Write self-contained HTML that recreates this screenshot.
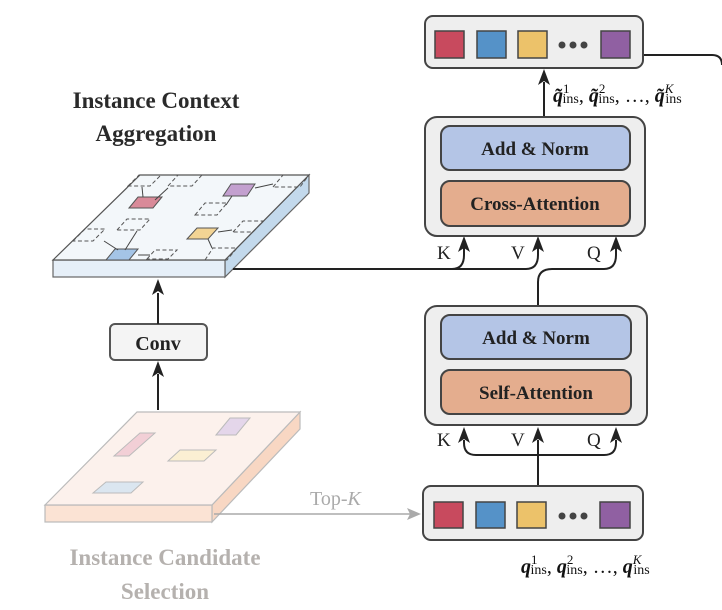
<!DOCTYPE html>
<html><head><meta charset="utf-8"><style>
html,body{margin:0;padding:0;background:#fff;}
svg{display:block;}
text{font-family:"Liberation Serif",serif;}
</style></head><body>
<svg width="722" height="610" viewBox="0 0 722 610" xmlns="http://www.w3.org/2000/svg">
<defs>
<marker id="ah" markerWidth="10" markerHeight="10" refX="5" refY="9" orient="auto" markerUnits="userSpaceOnUse" viewBox="0 0 10 10">
</marker>
</defs>
<!-- Titles -->
<text x="156" y="108" text-anchor="middle" font-size="23" font-weight="bold" fill="#2a2a2a">Instance Context</text>
<text x="156" y="141" text-anchor="middle" font-size="23" font-weight="bold" fill="#2a2a2a">Aggregation</text>
<text x="165" y="565" text-anchor="middle" font-size="23" font-weight="bold" fill="#b5b1ae">Instance Candidate</text>
<text x="165" y="599" text-anchor="middle" font-size="23" font-weight="bold" fill="#b5b1ae">Selection</text>

<!-- Blue slab -->
<polygon points="225,260 309,175 309,193 225,277" fill="#c3d9ec" stroke="#666" stroke-width="1.2"/>
<rect x="53" y="260" width="172" height="17" fill="#e6eff8" stroke="#666" stroke-width="1.2"/>
<polygon points="53,260 140,175 309,175 225,260" fill="#f3f7fa" stroke="#555" stroke-width="1.2"/>
<g fill="none" stroke="#555" stroke-width="1" stroke-dasharray="4,2.5">
<polygon points="128,186 139,175 161,175 150,186"/>
<polygon points="168,186 178,175 202,175 192,186"/>
<polygon points="117,230 127,219 150,219 140,230"/>
<polygon points="73,241 85,229 105,229 93,241"/>
<polygon points="147,259 155,250 177,250 168,259"/>
<polygon points="273,187 283,175 309,175 300,187"/>
<polygon points="195,215 205,203 227,203 217,215"/>
<polygon points="233,232 243,221 263,221 253,232"/>
<polygon points="205,260 213,248 237,248 227,260"/>
</g>
<polygon points="129,208 138,197 162,197 153,208" fill="#d98a99" stroke="#555" stroke-width="1"/>
<polygon points="223,196 231,184 255,184 247,196" fill="#c3a0cf" stroke="#555" stroke-width="1"/>
<polygon points="187,239 197,228 218,228 208,239" fill="#f3d494" stroke="#555" stroke-width="1"/>
<polygon points="106,260 115,249 138,249 129,260" fill="#a4c4e6" stroke="#555" stroke-width="1"/>
<g stroke="#444" stroke-width="1" fill="#444">
<line x1="143" y1="197" x2="142" y2="187"/><line x1="155" y1="200" x2="168" y2="188"/>
<line x1="255" y1="188" x2="273" y2="184"/><line x1="232" y1="196" x2="226" y2="205"/>
<line x1="218" y1="232" x2="232" y2="230"/><line x1="208" y1="239" x2="212" y2="248"/>
<line x1="118" y1="250" x2="104" y2="241"/><line x1="125" y1="250" x2="137" y2="231"/>
<line x1="138" y1="255" x2="150" y2="255"/>
</g>

<!-- Orange slab -->
<polygon points="212,505 300,412 300,429 212,522" fill="#f8d7c3" stroke="#bbb" stroke-width="1.2"/>
<rect x="45" y="505" width="167" height="17" fill="#fbe3d4" stroke="#bbb" stroke-width="1.2"/>
<polygon points="45,505 137,412 300,412 212,505" fill="#fcf1ec" stroke="#bbb" stroke-width="1.2"/>
<polygon points="114,456 140,433 155,433 129,456" fill="#f2cfd6" stroke="#bbb"/>
<polygon points="216,435 230,418 250,418 236,435" fill="#e4d6ea" stroke="#bbb"/>
<polygon points="168,461 180,450 216,450 204,461" fill="#fbefd3" stroke="#bbb"/>
<polygon points="93,493 106,482 143,482 131,493" fill="#dbe6f0" stroke="#bbb"/>

<!-- Top-K -->
<line x1="214" y1="514" x2="412" y2="514" stroke="#aaa" stroke-width="1.6"/>
<polygon points="421,514 407,508 410,514 407,520" fill="#aaa"/>
<text x="310" y="505" font-size="20" fill="#aaa">Top-<tspan font-style="italic">K</tspan></text>

<!-- Conv -->
<line x1="158" y1="410" x2="158" y2="374" stroke="#222" stroke-width="2"/>
<polygon points="158,361 152,377 158,373 164,377" fill="#222"/>
<rect x="110" y="324" width="97" height="36" rx="5" fill="#f4f4f4" stroke="#555" stroke-width="2"/>
<text x="158" y="350" text-anchor="middle" font-size="20" font-weight="bold" fill="#222">Conv</text>
<line x1="158" y1="324" x2="158" y2="293" stroke="#222" stroke-width="2"/>
<polygon points="158,279 152,295 158,291 164,295" fill="#222"/>

<!-- connectors cross -->
<g fill="none" stroke="#222" stroke-width="2">
<path d="M233,269 H452 Q464,269 464,255 V248"/>
<path d="M452,269 H526 Q538,269 538,255 V248"/>
<path d="M538,308 V282 Q538,269 552,269 H604 Q616,269 616,255 V248"/>
<!-- self -->
<path d="M538,486 V440"/>
<path d="M538,455 H476 Q464,455 464,443 V440"/>
<path d="M538,455 H604 Q616,455 616,443 V440"/>
<!-- top -->
<path d="M544,117 V82"/>
<path d="M643,55 H712 Q722,55 722,65"/>
</g>
<g fill="#222">
<polygon points="464,236 458,252 464,248 470,252"/>
<polygon points="538,236 532,252 538,248 544,252"/>
<polygon points="616,236 610,252 616,248 622,252"/>
<polygon points="464,427 458,443 464,439 470,443"/>
<polygon points="538,427 532,443 538,439 544,443"/>
<polygon points="616,427 610,443 616,439 622,443"/>
<polygon points="544,69 538,85 544,81 550,85"/>
</g>
<g font-size="19" fill="#222">
<text x="437" y="259">K</text><text x="511" y="259">V</text><text x="587" y="259">Q</text>
<text x="437" y="446">K</text><text x="511" y="446">V</text><text x="587" y="446">Q</text>
</g>

<!-- Cross block -->
<rect x="425" y="117" width="220" height="119" rx="12" fill="#eeeeee" stroke="#444" stroke-width="2"/>
<rect x="441" y="126" width="189" height="44" rx="9" fill="#b4c5e6" stroke="#444" stroke-width="2"/>
<rect x="441" y="181" width="189" height="45" rx="9" fill="#e4ad8e" stroke="#444" stroke-width="2"/>
<text x="535" y="155" text-anchor="middle" font-size="19" font-weight="bold" fill="#222">Add &amp; Norm</text>
<text x="535" y="210" text-anchor="middle" font-size="19" font-weight="bold" fill="#222">Cross-Attention</text>

<!-- Self block -->
<rect x="425" y="306" width="222" height="119" rx="12" fill="#eeeeee" stroke="#444" stroke-width="2"/>
<rect x="441" y="315" width="190" height="44" rx="9" fill="#b4c5e6" stroke="#444" stroke-width="2"/>
<rect x="441" y="370" width="190" height="44" rx="9" fill="#e4ad8e" stroke="#444" stroke-width="2"/>
<text x="536" y="344" text-anchor="middle" font-size="19" font-weight="bold" fill="#222">Add &amp; Norm</text>
<text x="536" y="399" text-anchor="middle" font-size="19" font-weight="bold" fill="#222">Self-Attention</text>

<!-- Top token box -->
<rect x="425" y="16" width="218" height="52" rx="8" fill="#eeeeee" stroke="#444" stroke-width="2"/>
<rect x="435" y="31" width="29" height="27" fill="#c84a5e" stroke="#444" stroke-width="1.5"/>
<rect x="477" y="31" width="29" height="27" fill="#5592c8" stroke="#444" stroke-width="1.5"/>
<rect x="518" y="31" width="29" height="27" fill="#ecc26a" stroke="#444" stroke-width="1.5"/>
<circle cx="562" cy="45" r="3.5" fill="#444"/><circle cx="573" cy="45" r="3.5" fill="#444"/><circle cx="584" cy="45" r="3.5" fill="#444"/>
<rect x="601" y="31" width="29" height="27" fill="#9060a2" stroke="#444" stroke-width="1.5"/>

<!-- Bottom token box -->
<rect x="423" y="486" width="220" height="54" rx="8" fill="#eeeeee" stroke="#444" stroke-width="2"/>
<rect x="434" y="502" width="29" height="26" fill="#c84a5e" stroke="#444" stroke-width="1.5"/>
<rect x="476" y="502" width="29" height="26" fill="#5592c8" stroke="#444" stroke-width="1.5"/>
<rect x="517" y="502" width="29" height="26" fill="#ecc26a" stroke="#444" stroke-width="1.5"/>
<circle cx="562" cy="516" r="3.5" fill="#444"/><circle cx="573" cy="516" r="3.5" fill="#444"/><circle cx="584" cy="516" r="3.5" fill="#444"/>
<rect x="600" y="502" width="30" height="26" fill="#9060a2" stroke="#444" stroke-width="1.5"/>

<!-- Labels -->
<text x="553" y="102" font-size="20" fill="#111"><tspan font-weight="bold" font-style="italic">q̃</tspan><tspan font-size="13" dy="-9">1</tspan><tspan font-size="14" dx="-7" dy="10">ins</tspan><tspan dy="-1">, </tspan><tspan font-weight="bold" font-style="italic">q̃</tspan><tspan font-size="13" dy="-9">2</tspan><tspan font-size="14" dx="-7" dy="10">ins</tspan><tspan dy="-1">, …, </tspan><tspan font-weight="bold" font-style="italic">q̃</tspan><tspan font-size="13" font-style="italic" dy="-9">K</tspan><tspan font-size="14" dx="-8" dy="10">ins</tspan></text>
<text x="521" y="573" font-size="20" fill="#111"><tspan font-weight="bold" font-style="italic">q</tspan><tspan font-size="13" dy="-9">1</tspan><tspan font-size="14" dx="-7" dy="10">ins</tspan><tspan dy="-1">, </tspan><tspan font-weight="bold" font-style="italic">q</tspan><tspan font-size="13" dy="-9">2</tspan><tspan font-size="14" dx="-7" dy="10">ins</tspan><tspan dy="-1">, …, </tspan><tspan font-weight="bold" font-style="italic">q</tspan><tspan font-size="13" font-style="italic" dy="-9">K</tspan><tspan font-size="14" dx="-8" dy="10">ins</tspan></text>
</svg>
</body></html>
